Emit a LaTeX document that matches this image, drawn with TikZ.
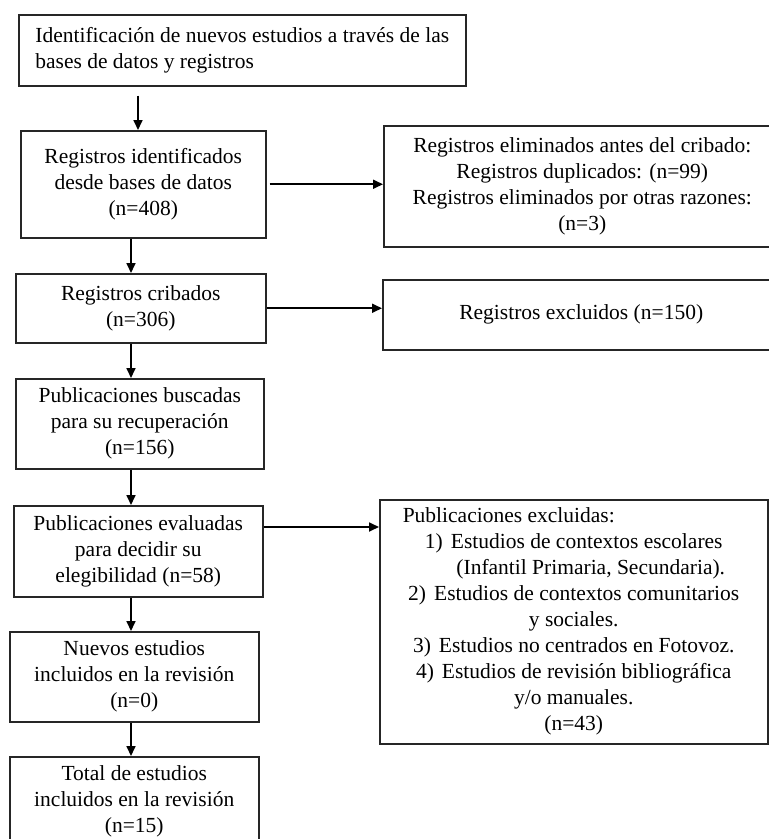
\documentclass[tikz,border=0pt]{standalone}
\usepackage{fontspec}
\setmainfont{Liberation Serif}
\usetikzlibrary{arrows.meta}

\begin{document}
\begin{tikzpicture}[x=1bp,y=-1bp,
  caja/.style={draw=black!85,line width=1.5bp,inner sep=0pt,align=center,anchor=north west,
    font=\fontsize{21.5bp}{26bp}\selectfont},
  flecha/.style={draw=black,line width=1.7bp,-{Triangle[length=10bp,width=9bp]}}]
\useasboundingbox (0,0) rectangle (769,839);
%\draw[help lines,step=50](0,0)grid(769,839);
% columna izquierda
\node[caja,align=left,minimum width=447bp,minimum height=71bp] (ident) at (18,14) {Identificación de nuevos estudios a través de las\\bases de datos y registros};
\node[caja,minimum width=245bp,minimum height=107bp] (regid) at (20,130) {Registros identificados\\desde bases de datos\\(n=408)};
\node[caja,minimum width=250bp,minimum height=69bp] (crib) at (15,273) {Registros cribados\\(n=306)};
\node[caja,minimum width=248bp,minimum height=90bp] (busc) at (15,378) {Publicaciones buscadas\\para su recuperación\\(n=156)};
\node[caja,minimum width=249bp,minimum height=91bp] (eval) at (13,505) {Publicaciones evaluadas\\para decidir su\\elegibilidad (n=58)};
\node[caja,minimum width=249bp,minimum height=90bp] (nuev) at (9,631) {Nuevos estudios\\incluidos en la revisión\\(n=0)};
\node[caja,minimum width=249bp,minimum height=90bp] (total) at (9,756) {Total de estudios\\incluidos en la revisión\\(n=15)};
% columna derecha
\node[caja,minimum width=397bp,minimum height=121bp] (elim) at (383,125) {Registros eliminados antes del cribado:\\Registros duplicados: (n=99)\\Registros eliminados por otras razones:\\(n=3)};
\node[caja,minimum width=397bp,minimum height=70bp] (excl) at (382,279) {Registros excluidos (n=150)};
\node[caja,align=flush center,minimum width=388bp,minimum height=244bp,text width=372bp] (pubex) at (379,499) {\hspace*{15bp}Publicaciones excluidas:\hfill\null\\
  1)\hspace{8bp}Estudios de contextos escolares\\
  \hspace*{34bp}(Infantil Primaria, Secundaria).\\
  2)\hspace{8bp}Estudios de contextos comunitarios\\
  y sociales.\\
  3)\hspace{8bp}Estudios no centrados en Fotovoz.\\
  4)\hspace{8bp}Estudios de revisión bibliográfica\\
  y/o manuales.\\
  (n=43)};
% flechas
\coordinate (eje0) at (138,0);
\coordinate (eje) at (131,0);
\coordinate (filaev) at (0,527);
\draw[flecha] ([yshift=-9bp]ident.south -| eje0) -- (regid.north -| eje0);
\draw[flecha] (regid.south -| eje) -- (crib.north -| eje);
\draw[flecha] (crib.south -| eje) -- (busc.north -| eje);
\draw[flecha] (busc.south -| eje) -- (eval.north -| eje);
\draw[flecha] (eval.south -| eje) -- (nuev.north -| eje);
\draw[flecha] (nuev.south -| eje) -- (total.north -| eje);
\draw[flecha] ([xshift=3bp]regid.east) -- (regid.east -| elim.west);
\draw[flecha] (crib.east) -- (crib.east -| excl.west);
\draw[flecha] (eval.east |- filaev) -- (pubex.west |- filaev);
\end{tikzpicture}
\end{document}
